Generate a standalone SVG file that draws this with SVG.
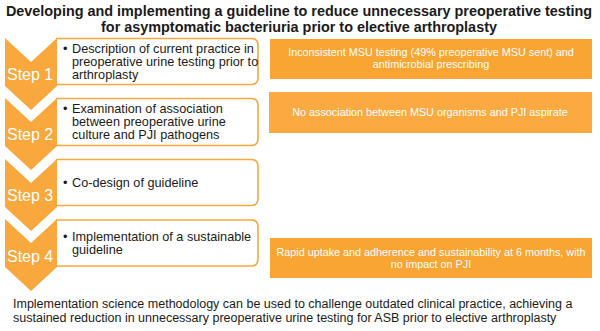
<svg xmlns="http://www.w3.org/2000/svg" width="600" height="331" viewBox="0 0 600 331">
<style>
.title{font-family:"Liberation Sans",Arial,sans-serif;font-weight:bold;font-size:14.4px;fill:#1a1a1a;text-anchor:middle}
.chev{fill:#F8A83D}
.step{font-family:"Liberation Sans",Arial,sans-serif;font-size:16px;fill:#ffffff}
.box{fill:#ffffff;stroke:#F8A83D;stroke-width:1.6}
.txt{font-family:"Liberation Sans",Arial,sans-serif;font-size:12.7px;fill:#1a1a1a}
.res{fill:#F9A533}
.rtxt{font-family:"Liberation Sans",Arial,sans-serif;font-size:10.8px;fill:#ffffff;text-anchor:middle}
.foot{font-family:"Liberation Sans",Arial,sans-serif;font-size:12.5px;fill:#1a1a1a}
</style>
<rect width="600" height="331" fill="#ffffff"/>
<g id="title">
<text class="title" x="299" y="16">Developing and implementing a guideline to reduce unnecessary preoperative testing</text>
<text class="title" x="299" y="32">for asymptomatic bacteriuria prior to elective arthroplasty</text>
</g>
<g id="step1">
<path class="box" d="M56,38.5 H251 Q258,38.5 258,45.5 V77.5 Q258,84.5 251,84.5 H56"/>
<path class="chev" d="M5,38 L31,62 L57,38 L57,86 L31,110 L5,86 Z"/>
<text class="step" x="7" y="80">Step 1</text>
<text class="txt" x="63" y="53">•</text>
<text class="txt" x="72" y="53">Description of current practice in</text>
<text class="txt" x="72" y="66">preoperative urine testing prior to</text>
<text class="txt" x="72" y="79">arthroplasty</text>
</g>
<g id="step2">
<path class="box" d="M56,98.5 H251 Q258,98.5 258,105.5 V138.5 Q258,145.5 251,145.5 H56"/>
<path class="chev" d="M5,98 L31,122 L57,98 L57,146 L31,170 L5,146 Z"/>
<text class="step" x="7" y="140">Step 2</text>
<text class="txt" x="63" y="113">•</text>
<text class="txt" x="72" y="113">Examination of association</text>
<text class="txt" x="72" y="126">between preoperative urine</text>
<text class="txt" x="72" y="139">culture and PJI pathogens</text>
</g>
<g id="step3">
<path class="box" d="M56,159.5 H251 Q258,159.5 258,166.5 V198.5 Q258,205.5 251,205.5 H56"/>
<path class="chev" d="M5,159 L31,183 L57,159 L57,207 L31,231 L5,207 Z"/>
<text class="step" x="7" y="201">Step 3</text>
<text class="txt" x="63" y="187">•</text>
<text class="txt" x="72" y="187">Co-design of guideline</text>
</g>
<g id="step4">
<path class="box" d="M56,220 H251 Q258,220 258,227 V259 Q258,266 251,266 H56"/>
<path class="chev" d="M5,219 L31,243 L57,219 L57,267 L31,291 L5,267 Z"/>
<text class="step" x="7" y="262">Step 4</text>
<text class="txt" x="63" y="241">•</text>
<text class="txt" x="72" y="241">Implementation of a sustainable</text>
<text class="txt" x="72" y="254">guideline</text>
</g>
<g id="result1">
<rect class="res" x="270" y="39" width="322" height="40"/>
<text class="rtxt" x="431" y="56">Inconsistent MSU testing (49% preoperative MSU sent) and</text>
<text class="rtxt" x="431" y="68">antimicrobial prescribing</text>
</g>
<g id="result2">
<rect x="269" y="92" width="323" height="41" fill="#FAAA40"/>
<text class="rtxt" x="430" y="116">No association between MSU organisms and PJI aspirate</text>
</g>
<g id="result3">
<rect class="res" x="270" y="238" width="322" height="40"/>
<text class="rtxt" x="431" y="256">Rapid uptake and adherence and sustainability at 6 months, with</text>
<text class="rtxt" x="431" y="268">no impact on PJI</text>
</g>
<g id="connectors"></g>
<g id="footer">
<text class="foot" x="13" y="308">Implementation science methodology can be used to challenge outdated clinical practice, achieving a</text>
<text class="foot" x="13" y="322">sustained reduction in unnecessary preoperative urine testing for ASB prior to elective arthroplasty</text>
</g>
</svg>
